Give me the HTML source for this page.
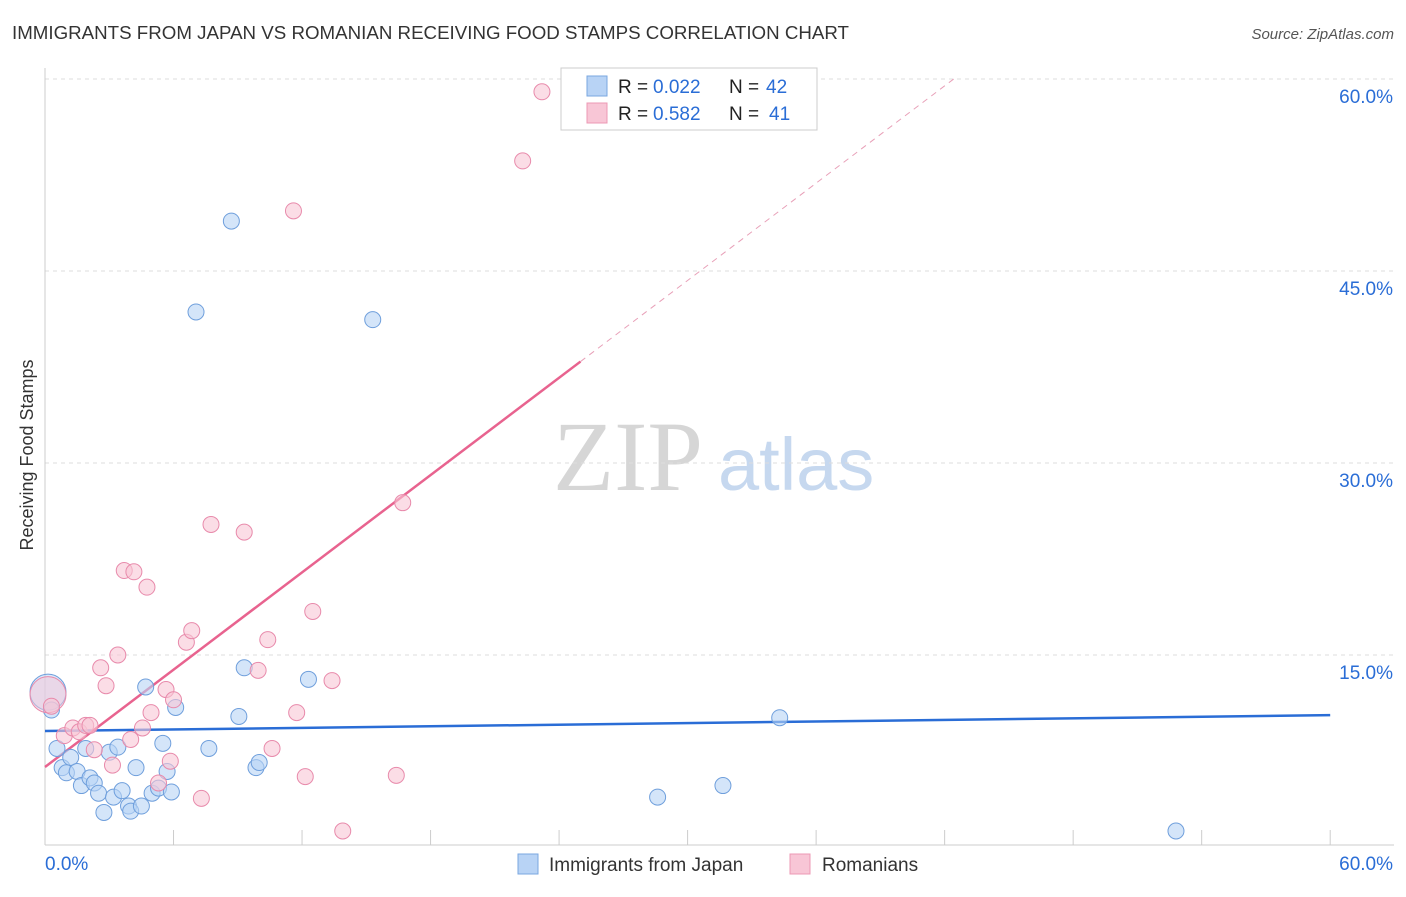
<!DOCTYPE html>
<html><head><meta charset="utf-8"><style>
body{margin:0;background:#fff;font-family:"Liberation Sans",sans-serif;}
</style></head><body>
<svg id="chart" width="1406" height="892" viewBox="0 0 1406 892" font-family="Liberation Sans, sans-serif">
<text x="12" y="39" font-size="18" fill="#333" textLength="837" lengthAdjust="spacingAndGlyphs">IMMIGRANTS FROM JAPAN VS ROMANIAN RECEIVING FOOD STAMPS CORRELATION CHART</text>
<text x="1394" y="39" font-size="15" fill="#555" text-anchor="end" font-style="italic">Source: ZipAtlas.com</text>
<text x="553" y="490" font-size="100" fill="#d6d6d6" style="font-family:'Liberation Serif',serif">ZIP</text>
<text x="718" y="490" font-size="74" fill="#c6d8ef">atlas</text>
<text transform="translate(33,455) rotate(-90)" font-size="18" fill="#333" text-anchor="middle">Receiving Food Stamps</text>
<g id="grid"></g><g id="axes"></g><g id="lines"></g><g id="pts"></g>
<g>
<rect x="561" y="68" width="256" height="62" fill="#fff" stroke="#ccc"/>
<rect x="587" y="76" width="20" height="20" fill="#b8d3f5" stroke="#7aa7e0"/>
<rect x="587" y="103" width="20" height="20" fill="#f8c6d6" stroke="#ec98b4"/>
<text x="618" y="93" font-size="19" fill="#222">R =</text>
<text x="653" y="93" font-size="19" fill="#2a6dd6">0.022</text>
<text x="729" y="93" font-size="19" fill="#222">N =</text>
<text x="766" y="93" font-size="19" fill="#2a6dd6">42</text>
<text x="618" y="120" font-size="19" fill="#222">R =</text>
<text x="653" y="120" font-size="19" fill="#2a6dd6">0.582</text>
<text x="729" y="120" font-size="19" fill="#222">N =</text>
<text x="769" y="120" font-size="19" fill="#2a6dd6">41</text>
</g>
<g>
<rect x="518" y="854" width="20" height="20" fill="#b8d3f5" stroke="#7aa7e0"/>
<text x="549" y="871" font-size="19" fill="#333">Immigrants from Japan</text>
<rect x="790" y="854" width="20" height="20" fill="#f8c6d6" stroke="#ec98b4"/>
<text x="822" y="871" font-size="19" fill="#333">Romanians</text>
</g>
</svg>
<script>
const xTicks=[0,6,12,18,24,30,36,42,48,54,60];
const yTicks=[15,30,45,60];
const yTickLabels=["15.0%","30.0%","45.0%","60.0%"];
const japanX=[0.14,0.3,0.56,0.8,1.0,1.2,1.5,1.7,1.9,2.1,2.3,2.5,2.75,3.0,3.2,3.4,3.6,3.9,4.0,4.25,4.5,4.7,5.0,5.3,5.5,5.7,5.9,6.1,7.05,7.65,8.7,9.05,9.3,9.85,10.0,12.3,15.3,28.6,31.65,34.3,52.8];
const japanY=[12.1,10.7,7.7,6.2,5.8,7.0,5.9,4.8,7.7,5.4,5.0,4.2,2.7,7.4,3.9,7.8,4.4,3.2,2.8,6.2,3.2,12.5,4.2,4.6,8.1,5.9,4.3,10.9,41.8,7.7,48.9,10.2,14.0,6.2,6.6,13.1,41.2,3.9,4.8,10.1,1.25];
const romX=[0.14,0.3,0.9,1.3,1.6,1.9,2.1,2.3,2.6,2.85,3.15,3.4,3.7,4.0,4.15,4.55,4.76,4.95,5.3,5.65,5.85,6.0,6.6,6.85,7.3,7.75,9.3,9.95,10.4,10.6,11.75,11.6,12.15,12.5,13.4,13.9,16.4,16.7,22.3,23.2];
const romY=[11.9,11.0,8.7,9.3,9.0,9.5,9.5,7.6,14.0,12.6,6.4,15.0,21.6,8.4,21.5,9.3,20.3,10.5,5.0,12.3,6.7,11.5,16.0,16.9,3.8,25.2,24.6,13.8,16.2,7.7,10.5,49.7,5.5,18.4,13.0,1.25,5.6,26.9,53.6,59.0];
const japanTrend=[9.06,10.3];
const romTrend=[6.25,1.267];
const NS="http://www.w3.org/2000/svg";
const X=v=>45+v*21.42, Y=v=>847-v*12.8;
function mk(tag,at,parent){const e=document.createElementNS(NS,tag);for(const k in at)e.setAttribute(k,at[k]);document.getElementById(parent).appendChild(e);return e;}
yTicks.forEach((t,i)=>{
 const l=mk('line',{x1:45,x2:1394,y1:Y(t),y2:Y(t),stroke:'#ddd','stroke-dasharray':'4,4'},'grid');
 
 
 const tx=mk('text',{x:1393,y:Y(t)+24,'font-size':19,fill:'#2a6dd6','text-anchor':'end'},'grid');
 tx.textContent=yTickLabels[i];
 
 
});
const ya=mk('line',{x1:45,x2:45,y1:68,y2:845,stroke:'#ccc'},'axes');


const xa=mk('line',{x1:45,x2:1394,y1:845,y2:845,stroke:'#ccc'},'axes');


xTicks.forEach(t=>{const l=mk('line',{x1:X(t),x2:X(t),y1:830,y2:845,stroke:'#ccc'},'axes');
 
 });
[[0,'0.0%','start',45],[60,'60.0%','end',1393]].forEach(a=>{const t=mk('text',{x:a[3],y:870,'font-size':19,fill:'#2a6dd6','text-anchor':a[2]},'axes');t.textContent=a[1];
 
 });
function pts(xs,ys,fill,stroke,name){xs.forEach((x,i)=>{const c=mk('circle',{cx:X(x),cy:Y(ys[i]),r:i==0?18:8,fill:fill,'fill-opacity':i==0?0.5:0.6,stroke:stroke,'stroke-width':1},'pts');
 
 });}
pts(japanX,japanY,'#b8d3f5','#6f9fdc','japan-point');
pts(romX,romY,'#f8c6d6','#e88aab','romanian-point');
const bl=mk('line',{x1:X(0),y1:Y(japanTrend[0]),x2:X(60),y2:Y(japanTrend[1]),stroke:'#2a6dd6','stroke-width':2.5},'lines');


const xe=25, xd=(60-romTrend[0])/romTrend[1];
const pl=mk('line',{x1:X(0),y1:Y(romTrend[0]),x2:X(xe),y2:Y(romTrend[0]+romTrend[1]*xe),stroke:'#e8638f','stroke-width':2.5},'lines');


const pd=mk('line',{x1:X(xe),y1:Y(romTrend[0]+romTrend[1]*xe),x2:X(xd),y2:Y(60),stroke:'#e8a0b8','stroke-width':1,'stroke-dasharray':'6,5'},'lines');


</script>
</body></html>
